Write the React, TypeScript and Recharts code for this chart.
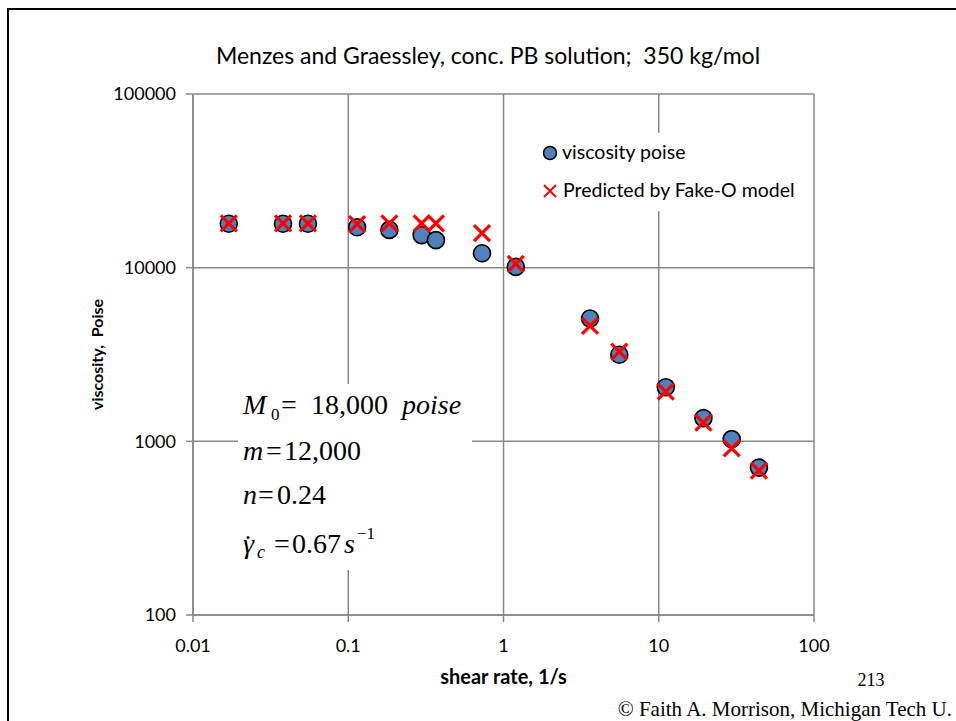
import React from 'react';
import { ScatterChart, Scatter, XAxis, YAxis, CartesianGrid, Legend } from 'recharts';

// ---- data ----
const shearRate = [0.017, 0.038, 0.055, 0.114, 0.184, 0.297, 0.367, 0.727, 1.2, 3.61, 5.57, 11.1, 19.4, 29.5, 44.2];
const viscosity = [17900, 17900, 17900, 17100, 16500, 15400, 14400, 12100, 10100, 5100, 3150, 2050, 1360, 1030, 706];
const predicted = [18000, 18000, 18000, 17800, 18000, 18000, 18000, 15800, 10500, 4620, 3280, 1930, 1280, 912, 678];
const xTicks = [0.01, 0.1, 1, 10, 100];
const xTickLabels = ['0.01', '0.1', '1', '10', '100'];
const yTicks = [100, 1000, 10000, 100000];
const yTickLabels = ['100', '1000', '10000', '100000'];
const seriesNames = ['viscosity poise', 'Predicted by Fake-O model'];

const measured = shearRate.map((x, i) => ({ x, y: viscosity[i] }));
const model = shearRate.map((x, i) => ({ x, y: predicted[i] }));

const GRID = '#878787';
const FONT = 'Lato, "Open Sans", sans-serif';
const SERIF = '"Liberation Serif", "DejaVu Serif", serif';

const CircleShape = (props: any) => {
  const { cx, cy } = props;
  return <circle cx={cx} cy={cy} r={8.5} fill="#4F81BD" stroke="#000" strokeWidth={1.6} />;
};

const CrossShape = (props: any) => {
  const { cx, cy } = props;
  const s = 8;
  return (
    <path
      d={`M${cx - s},${cy - s}L${cx + s},${cy + s}M${cx - s},${cy + s}L${cx + s},${cy - s}`}
      stroke="#FF0000"
      strokeWidth={3.2}
      fill="none"
    />
  );
};

const LegendContent = () => (
  <div style={{ background: '#fff', width: 272, height: 78, position: 'relative' }}>
    <svg width={272} height={78} style={{ position: 'absolute', left: 0, top: 0 }}>
      <circle cx={15} cy={20} r={6.5} fill="#4F81BD" stroke="#000" strokeWidth={1.5} />
      <text x={27} y={26} fontFamily={FONT} fontSize={19.5}>{seriesNames[0]}</text>
      <path d="M9,52L21,64M9,64L21,52" stroke="#FF0000" strokeWidth={2} />
      <text x={28} y={64} fontFamily={FONT} fontSize={19.5}>{seriesNames[1]}</text>
    </svg>
  </div>
);

const YLabel = (props: any) => {
  const vb = props.viewBox || { x: 0, y: 94, width: 193, height: 521 };
  const cx = vb.x + 103;
  const cy = vb.y + vb.height / 2;
  return (
    <text x={cx} y={cy} transform={`rotate(-90 ${cx} ${cy})`} textAnchor="middle" fontFamily={FONT} fontWeight="bold" fontSize={16} fill="#000" style={{ whiteSpace: 'pre' }}>
      {'viscosity,  Poise'}
    </text>
  );
};

export default function App() {
  return (
    <div style={{ position: 'absolute', left: 0, top: 0, width: 956, height: 721, background: '#fff', overflow: 'hidden' }}>
      <div style={{ position: 'absolute', left: 7, top: 8, width: 1000, height: 800, borderLeft: '2px solid #000', borderTop: '2px solid #000' }} />
      <ScatterChart width={956} height={721} margin={{ top: 94, right: 142, left: 0, bottom: 26 }}>
        <CartesianGrid stroke={GRID} strokeWidth={1.5} fill="none" />
        <XAxis
          dataKey="x"
          type="number"
          scale="log"
          domain={[0.01, 100]}
          ticks={xTicks}
          allowDataOverflow
          tickFormatter={(v: number) => xTickLabels[xTicks.indexOf(v)] ?? String(v)}
          height={80}
          stroke={GRID}
          strokeWidth={1.5}
          tickSize={7}
          tickMargin={17}
          tick={{ fill: '#000', fontSize: 18, fontFamily: FONT }}
          label={{ value: 'shear rate, 1/s', position: 'insideBottom', offset: 11, style: { fontFamily: FONT, fontWeight: 'bold', fontSize: 20, fill: '#000' } }}
        />
        <YAxis
          dataKey="y"
          type="number"
          scale="log"
          domain={[100, 100000]}
          ticks={yTicks}
          allowDataOverflow
          tickFormatter={(v: number) => yTickLabels[yTicks.indexOf(v)] ?? String(v)}
          width={193}
          stroke={GRID}
          strokeWidth={1.5}
          tickSize={7}
          tickMargin={10}
          tick={{ fill: '#000', fontSize: 18, fontFamily: FONT }}
          label={<YLabel />}
        />
        <Legend
          layout="vertical"
          align="center"
          verticalAlign="middle"
          wrapperStyle={{ position: 'absolute', left: 535, top: 133, width: 272, height: 78 }}
          content={<LegendContent />}
        />
        <Scatter name={seriesNames[0]} data={measured} shape={<CircleShape />} isAnimationActive={false} />
        <Scatter name={seriesNames[1]} data={model} shape={<CrossShape />} isAnimationActive={false} />
      </ScatterChart>
      <svg width={956} height={721} style={{ position: 'absolute', left: 0, top: 0, pointerEvents: 'none' }}>
        <text x={488} y={64} textAnchor="middle" fontFamily={FONT} fontSize={23} fill="#000" xmlSpace="preserve" style={{ whiteSpace: 'pre' }}>
          {'Menzes and Graessley, conc. PB solution;  350 kg/mol'}
        </text>
        <rect x={238} y={384} width={234} height={186} fill="#fff" />
        <g fontFamily={SERIF} fontSize={28} fill="#000">
          <text x={243} y={414}>
            <tspan fontStyle="italic">M</tspan>
            <tspan x={271} dy={6} fontSize={17}>0</tspan>
            <tspan x={281} dy={-6}>=</tspan>
            <tspan x={311}>18,000</tspan>
            <tspan x={402} fontStyle="italic">poise</tspan>
          </text>
          <text x={243} y={460}>
            <tspan fontStyle="italic">m</tspan>
            <tspan x={266}>=</tspan>
            <tspan x={284}>12,000</tspan>
          </text>
          <text x={243} y={504}>
            <tspan fontStyle="italic">n</tspan>
            <tspan x={258}>=</tspan>
            <tspan x={277}>0.24</tspan>
          </text>
          <text x={243} y={553}>
            <tspan fontStyle="italic">{'\u03B3'}</tspan>
            <tspan x={257} dy={5} fontSize={18} fontStyle="italic">c</tspan>
            <tspan x={274} dy={-5}>=</tspan>
            <tspan x={292}>0.67</tspan>
            <tspan x={344} fontStyle="italic">s</tspan>
            <tspan x={357} dy={-14} fontSize={17}>{'\u22121'}</tspan>
          </text>
          <text x={248} y={554} textAnchor="middle">{'\u02D9'}</text>
        </g>
        <text x={871} y={686} textAnchor="middle" fontFamily={SERIF} fontSize={18} fill="#000">213</text>
        <text x={952} y={716} textAnchor="end" fontFamily={SERIF} fontSize={21} fill="#000">© Faith A. Morrison, Michigan Tech U.</text>
      </svg>
    </div>
  );
}
